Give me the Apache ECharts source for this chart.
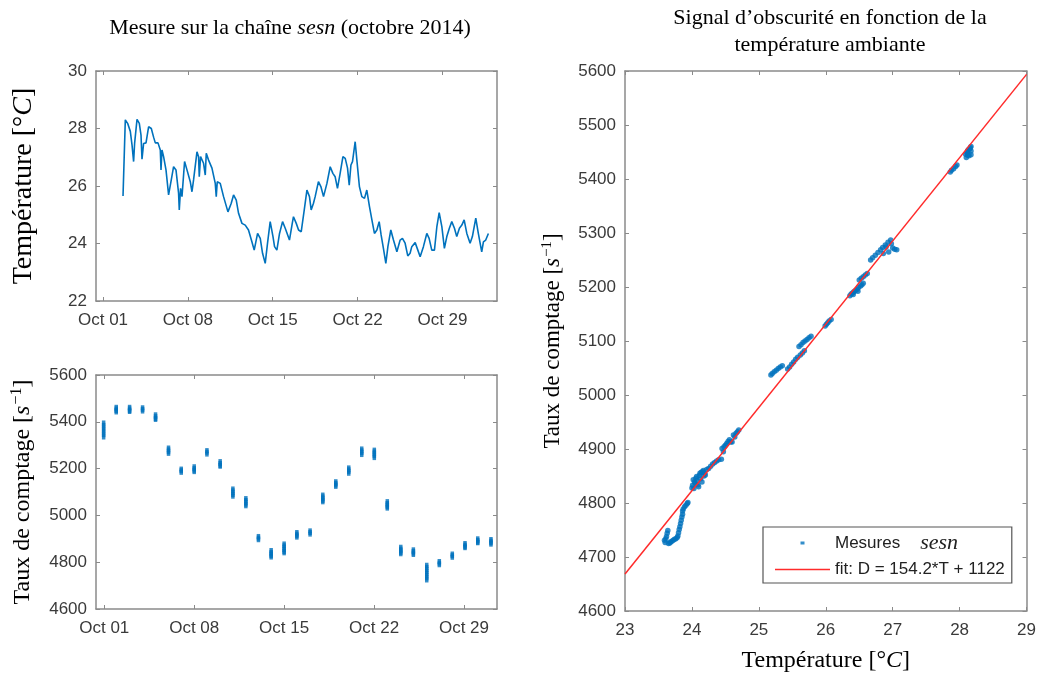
<!DOCTYPE html>
<html><head><meta charset="utf-8">
<script src="https://cdn.jsdelivr.net/npm/echarts@6/dist/echarts.min.js"></script>
<style>html,body{margin:0;padding:0;background:#fff}#c{width:1039px;height:678px}</style>
</head><body><div id="c"></div>
<script>
// ---------- tick labels ----------
const tickDays = [1, 8, 15, 22, 29];
const tickLabels = ['Oct 01', 'Oct 08', 'Oct 15', 'Oct 22', 'Oct 29'];

// ---------- temperature (day of October, °C) ----------
const tempDays = [2.649,2.838,3.028,3.251,3.391,3.523,3.605,3.803,3.993,4.133,4.215,4.347,4.545,4.759,4.982,5.171,5.312,5.534,5.724,5.782,5.864,5.996,6.194,6.408,6.63,6.820,7.018,7.232,7.29,7.397,7.513,7.727,7.925,8.197,8.337,8.469,8.749,8.881,8.939,9.046,9.293,9.434,9.516,9.706,9.986,10.258,10.34,10.423,10.67,10.943,11.305,11.577,11.767,11.99,12.18,12.46,12.73,13.00,13.28,13.47,13.75,13.97,14.16,14.38,14.57,14.79,15.02,15.15,15.34,15.56,15.81,16.03,16.38,16.61,16.71,16.94,17.13,17.35,17.60,17.82,18.03,18.17,18.36,18.50,18.77,18.97,19.19,19.47,19.74,19.96,20.15,20.34,20.56,20.79,20.98,21.17,21.31,21.45,21.58,21.80,21.94,22.15,22.35,22.57,22.76,22.98,23.18,23.39,23.59,23.78,23.94,24.13,24.33,24.50,24.74,24.96,25.24,25.51,25.70,25.92,26.14,26.33,26.47,26.75,26.97,27.16,27.43,27.71,27.90,28.12,28.34,28.54,28.73,28.95,29.16,29.36,29.57,29.77,29.99,30.18,30.40,30.60,30.79,31.01,31.28,31.47,31.75,31.96,32.24,32.38,32.57,32.79];
const tempValues = [25.65,28.30,28.18,27.90,27.43,26.85,27.48,28.32,28.18,27.77,26.93,27.48,27.50,28.06,28.00,27.70,27.50,27.50,27.25,26.56,27.25,27.02,26.56,25.69,26.21,26.67,26.56,25.75,25.17,25.92,25.63,26.85,26.56,26.15,25.80,26.21,27.19,27.02,26.32,27.02,26.79,26.38,27.14,26.90,26.62,26.09,25.63,26.15,26.09,25.63,25.10,25.40,25.69,25.51,25.05,24.70,24.64,24.47,24.06,23.77,24.35,24.18,23.66,23.31,24.01,24.76,24.24,23.89,23.77,24.35,24.76,24.53,24.12,24.70,24.93,24.70,24.47,24.41,25.17,25.86,25.63,25.17,25.40,25.63,26.15,25.98,25.63,26.09,26.67,26.44,26.32,25.92,26.44,27.02,26.96,26.62,26.03,26.73,26.85,27.54,26.90,25.98,25.63,25.57,25.86,25.28,24.82,24.35,24.47,24.76,24.30,23.83,23.31,23.89,24.47,24.12,23.71,24.12,24.18,24.01,23.57,23.66,23.89,24.03,23.77,23.54,23.89,24.35,24.18,23.77,23.77,24.59,25.07,24.59,23.83,24.24,24.53,24.76,24.53,24.24,24.53,24.64,24.82,24.35,24.01,24.24,24.88,24.35,23.71,24.06,24.12,24.35];

// ---------- count rate (day of October, s^-1) ----------
const countDays = [0.95,1.93,2.97,3.98,4.99,6.0,6.99,8.0,8.99,10.02,11.01,12.02,13.0,13.99,15.0,15.99,17.02,18.01,19.02,20.03,21.04,22.02,23.03,24.08,25.06,26.1,27.08,28.09,29.08,30.07,31.1];
const countValues = [
  [5395,5385,5375,5365,5355,5345,5335],[5462,5455,5448,5442],[5462,5455,5448,5444],[5460,5453,5446],[5430,5422,5414,5410],
  [5288,5280,5272,5265],[5198,5191,5184],[5208,5200,5193,5187],[5277,5270,5262],[5230,5222,5214,5210],
  [5113,5105,5097,5089,5082],[5072,5064,5056,5048,5041],[4910,4903,4896],[4850,4842,4835,4828,4822],[4878,4870,4862,4854,4846,4840],
  [4927,4920,4913,4907],[4934,4927,4920],[5087,5079,5071,5064,5058],[5144,5137,5130,5124],[5203,5195,5188,5180],
  [5284,5276,5268,5260],[5279,5271,5263,5255,5247],[5059,5051,5044,5037,5031],[4864,4856,4849,4842,4836],[4853,4846,4839,4833],
  [4787,4778,4769,4760,4751,4742,4733,4724],[4803,4796,4789],[4835,4828,4821],[4880,4873,4866,4862],[4900,4893,4886,4883],[4897,4890,4883,4877]
];

// ---------- dark signal vs temperature ----------
const scatterT = [23.59,23.60,23.61,23.62,23.63,23.64,23.65,23.67,23.68,23.70,23.72,23.74,23.76,23.78,23.79,23.80,23.81,23.82,23.83,23.84,23.85,23.86,23.86,23.87,23.89,23.91,23.93,23.94,
  24.00,24.01,24.02,24.03,24.04,24.05,24.06,24.07,24.08,24.10,24.11,24.12,24.13,24.14,24.15,24.16,24.17,24.19,24.20,24.22,24.25,24.09,24.18,
  24.28,24.31,24.34,24.37,24.40,24.44,
  24.45,24.47,24.48,24.50,24.52,24.54,24.56,24.58,24.60,24.62,24.64,24.66,24.68,24.70,
  25.18,25.20,25.23,25.26,25.29,25.32,25.35,
  25.43,25.46,25.49,25.52,25.55,25.58,25.62,25.65,25.68,
  25.60,25.63,25.66,25.69,25.72,25.75,25.78,
  25.99,26.01,26.03,26.05,26.08,
  26.36,26.38,26.40,26.42,26.44,26.47,26.49,26.52,26.54,26.56,26.41,26.48,
  26.50,26.53,26.56,26.59,26.62,
  26.67,26.70,26.74,26.78,26.82,26.85,26.89,26.93,26.97,27.00,27.03,27.06,26.94,26.98,26.90,26.86,
  27.86,27.88,27.91,27.94,27.96,
  28.09,28.11,28.12,28.13,28.15,28.16,28.17,28.17,28.17,28.14,28.10,28.12];
const scatterD = [4731,4727,4734,4738,4744,4749,4725,4726,4728,4729,4731,4733,4734,4736,4739,4745,4751,4756,4762,4768,4774,4779,4785,4789,4793,4796,4799,4801,
  4828,4833,4843,4827,4839,4836,4846,4849,4841,4830,4851,4855,4845,4857,4839,4858,4860,4855,4852,4862,4864,4834,4850,
  4868,4872,4875,4878,4880,4881,
  4901,4895,4904,4907,4910,4914,4917,4913,4913,4926,4922,4929,4932,4935,
  5037,5040,5043,5046,5049,5052,5054,
  5048,5052,5057,5061,5066,5070,5074,5078,5082,
  5090,5093,5097,5100,5103,5106,5109,
  5128,5131,5134,5137,5140,
  5184,5187,5189,5191,5193,5196,5199,5202,5204,5207,5186,5192,
  5213,5216,5219,5222,5225,
  5250,5254,5259,5264,5269,5273,5278,5283,5287,5272,5270,5269,5265,5280,5274,5262,
  5413,5416,5419,5423,5426,
  5446,5449,5452,5454,5456,5458,5460,5452,5445,5443,5440,5444];

const fitName = 'fit: D = 154.2*T + 1122';
const fitT = [23, 29];
const fitD = [4668.6, 5593.8];

// ---------- styles ----------
const BOX = '#8a8a8a', LBL = '#3a3a3a', BLUE = '#0072BD', RED = '#ff2b2b';
const SANS = '"Liberation Sans", Arial, sans-serif';
const SERIF = '"Liberation Serif", "Times New Roman", serif';
function nameRich(size) {
  return {
    n: {fontFamily: SERIF, fontSize: size, color: '#000'},
    i: {fontFamily: SERIF, fontSize: size, fontStyle: 'italic', color: '#000'},
    s: {fontFamily: SERIF, fontSize: Math.round(size * 0.65), color: '#000', padding: [0, 0, Math.round(size * 0.45), 1]}
  };
}
const plain = function (v) { return String(v); };

function xAx(grid, pos, min, max, extra) {
  const show = pos === 'bottom';
  return Object.assign({
    gridIndex: grid, type: 'value', position: pos, min: min, max: max,
    axisLine: {show: true, onZero: false, lineStyle: {color: BOX, width: 1.5}},
    axisTick: {show: true, inside: true, length: 4, lineStyle: {color: BOX, width: 1}},
    axisLabel: {show: show, color: LBL, fontFamily: SANS, fontSize: 17, margin: 11, formatter: plain},
    splitLine: {show: false}
  }, extra || {});
}
function yAx(grid, pos, min, max, interval, extra) {
  const show = pos === 'left';
  return Object.assign({
    gridIndex: grid, type: 'value', position: pos, min: min, max: max, interval: interval,
    axisLine: {show: true, onZero: false, lineStyle: {color: BOX, width: 1.5}},
    axisTick: {show: true, inside: true, length: 4, lineStyle: {color: BOX, width: 1}},
    axisLabel: {show: show, color: LBL, fontFamily: SANS, fontSize: 17, margin: 9, formatter: plain},
    splitLine: {show: false}
  }, extra || {});
}
const dateTicks = {customValues: tickDays, inside: true, length: 4, lineStyle: {color: BOX, width: 1}};
const dateLabels = function (show) {
  return {show: show, customValues: tickDays, color: LBL, fontFamily: SANS, fontSize: 17, margin: 11,
    formatter: function (v) { const k = tickDays.indexOf(Math.round(v)); return k >= 0 ? tickLabels[k] : ''; }};
};

const option = {
  animation: false,
  backgroundColor: '#fff',
  grid: [
    {left: 96, top: 71, width: 401, height: 230},
    {left: 96, top: 375, width: 401, height: 234},
    {left: 625, top: 71, width: 402, height: 540}
  ],
  xAxis: [
    xAx(0, 'bottom', 0.42, 33.5, {axisTick: dateTicks, axisLabel: dateLabels(true)}),
    xAx(0, 'top', 0.42, 33.5, {axisTick: dateTicks, axisLabel: dateLabels(false)}),
    xAx(1, 'bottom', 0.355, 31.57, {axisTick: dateTicks, axisLabel: dateLabels(true)}),
    xAx(1, 'top', 0.355, 31.57, {axisTick: dateTicks, axisLabel: dateLabels(false)}),
    xAx(2, 'bottom', 23, 29, {interval: 1, name: '{n|Température [°}{i|C}{n|]}', nameLocation: 'middle', nameGap: 38, nameTextStyle: {rich: nameRich(24)}}),
    xAx(2, 'top', 23, 29, {interval: 1})
  ],
  yAxis: [
    yAx(0, 'left', 22, 30, 2, {name: '{n|Température [°}{i|C}{n|]}', nameLocation: 'middle', nameRotate: 90, nameGap: 58, nameTextStyle: {rich: nameRich(28)}}),
    yAx(0, 'right', 22, 30, 2),
    yAx(1, 'left', 4600, 5600, 200, {name: '{n|Taux de comptage [}{i|s}{s|−1}{n|]}', nameLocation: 'middle', nameRotate: 90, nameGap: 60, nameTextStyle: {rich: nameRich(24)}}),
    yAx(1, 'right', 4600, 5600, 200),
    yAx(2, 'left', 4600, 5600, 100, {name: '{n|Taux de comptage [}{i|s}{s|−1}{n|]}', nameLocation: 'middle', nameRotate: 90, nameGap: 60, nameTextStyle: {rich: nameRich(23)}}),
    yAx(2, 'right', 4600, 5600, 100)
  ],
  legend: {
    data: [
      {name: 'Mesures', icon: 'path://M0,0h0.05v0.05h-0.05z M25.5,4.5h4v3h-4z M54.95,11.95h0.05v0.05h-0.05z'},
      {name: fitName, icon: 'path://M0,0h0.05v0.05h-0.05z M0,5.3h55v1.4h-55z M54.95,11.95h0.05v0.05h-0.05z'}
    ],
    orient: 'vertical', left: 763, top: 527,
    itemWidth: 55, itemHeight: 12, itemGap: 7,
    padding: [5, 7, 5, 12],
    borderColor: '#555', borderWidth: 1.2, backgroundColor: '#fff',
    selectedMode: false,
    formatter: function (name) {
      return name === 'Mesures' ? '{a|Mesures}{b|sesn}' : '{a|' + name + '}';
    },
    textStyle: {
      rich: {
        a: {fontFamily: SANS, fontSize: 17, color: '#222'},
        b: {fontFamily: SERIF, fontSize: 22, fontStyle: 'italic', color: '#222', padding: [0, 0, 0, 20]}
      }
    }
  },
  graphic: [
    {type: 'text', x: 290, y: 17, style: {
      text: '{n|Mesure sur la chaîne }{i|sesn}{n| (octobre 2014)}', align: 'center', verticalAlign: 'top',
      rich: {n: {fontFamily: SERIF, fontSize: 22, fill: '#000'}, i: {fontFamily: SERIF, fontSize: 22, fontStyle: 'italic', fill: '#000'}}
    }},
    {type: 'text', x: 830, y: 5, style: {
      text: 'Signal d’obscurité en fonction de la\ntempérature ambiante', align: 'center', verticalAlign: 'top',
      fontFamily: SERIF, fontSize: 22, lineHeight: 27, fill: '#000'
    }}
  ],
  series: [
    {type: 'line', name: 'temperature', xAxisIndex: 0, yAxisIndex: 0, showSymbol: false, symbol: 'none',
      data: tempDays.map(function (d, i) { return [d, tempValues[i]]; }),
      lineStyle: {color: BLUE, width: 1.6}, itemStyle: {color: BLUE}},
    {type: 'scatter', name: 'counts', xAxisIndex: 2, yAxisIndex: 2, symbol: 'rect', symbolSize: [3.5, 5],
      data: countDays.reduce(function (acc, d, i) { countValues[i].forEach(function (v) { acc.push([d, v]); }); return acc; }, []),
      itemStyle: {color: BLUE}},
    {type: 'scatter', name: 'Mesures', xAxisIndex: 4, yAxisIndex: 4, symbol: 'circle', symbolSize: 5.5,
      data: scatterT.map(function (t, i) { return [t, scatterD[i]]; }),
      itemStyle: {color: BLUE}},
    {type: 'line', name: fitName, xAxisIndex: 4, yAxisIndex: 4, showSymbol: false, symbol: 'none',
      data: fitT.map(function (t, i) { return [t, fitD[i]]; }),
      lineStyle: {color: RED, width: 1.5}, itemStyle: {color: RED}}
  ]
};
echarts.init(document.getElementById('c'), null, {renderer: 'canvas'}).setOption(option);
</script></body></html>
